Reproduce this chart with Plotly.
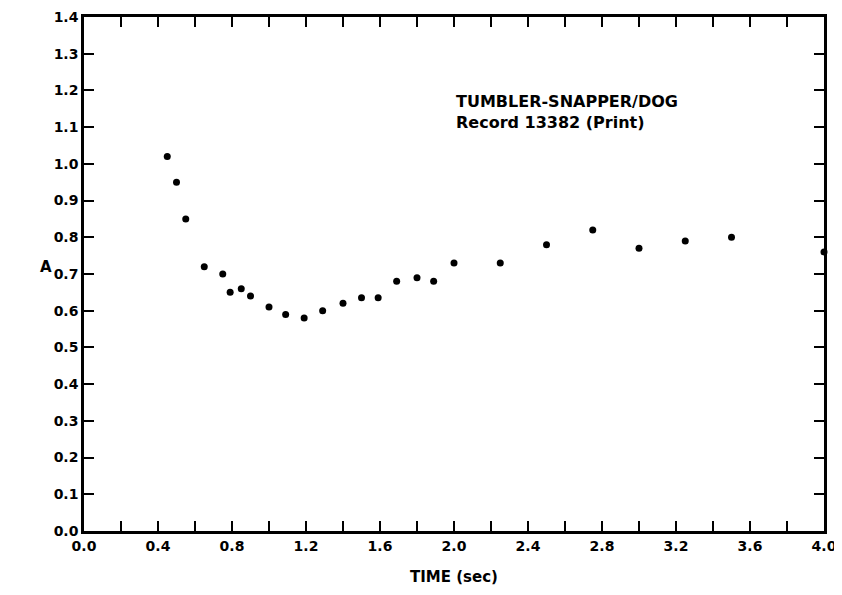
import plotly.graph_objects as go

time_sec = [0.45, 0.50, 0.55, 0.65, 0.75, 0.79, 0.85, 0.90, 1.00, 1.09, 1.19,
            1.29, 1.40, 1.50, 1.59, 1.69, 1.80, 1.89, 2.00, 2.25, 2.50, 2.75,
            3.00, 3.25, 3.50, 4.00]
amp = [1.02, 0.95, 0.85, 0.72, 0.70, 0.65, 0.66, 0.64, 0.61, 0.59, 0.58,
       0.60, 0.62, 0.635, 0.635, 0.68, 0.69, 0.68, 0.73, 0.73, 0.78, 0.82,
       0.77, 0.79, 0.80, 0.76]

title_lines = ["TUMBLER-SNAPPER/DOG", "Record 13382 (Print)"]
x_label = "TIME (sec)"
y_label = "A"

FONT = "DejaVu Sans"

fig = go.Figure()
fig.add_trace(go.Scatter(
    x=time_sec, y=amp, mode="markers",
    marker=dict(color="black", size=7),
    cliponaxis=False, showlegend=False,
))

axis_common = dict(
    showgrid=False, zeroline=False, showline=True, linecolor="black",
    linewidth=2.5, mirror="ticks", ticks="inside", ticklen=10,
    tickwidth=2, tickcolor="black", tickformat=".1f", automargin=False,
    tickfont=dict(family=FONT, size=14, color="black", weight="bold"),
)

fig.update_xaxes(range=[0, 4], dtick=0.4, tick0=0,
                 minor=dict(dtick=0.2, ticks="inside", ticklen=10,
                            tickwidth=2, tickcolor="black"),
                 **axis_common)
fig.update_yaxes(range=[0, 1.4], dtick=0.1, tick0=0, **axis_common)

fig.add_annotation(x=2.0, y=1.14, xref="x", yref="y",
                   text="<br>".join(title_lines),
                   showarrow=False, xanchor="left", yanchor="middle", align="left",
                   font=dict(family=FONT, size=16, color="black", weight="bold"))
fig.add_annotation(x=-0.051, y=0.719, xref="paper", yref="y", text=y_label,
                   showarrow=False, xanchor="center", yanchor="middle",
                   font=dict(family=FONT, size=15, color="black", weight="bold"))
fig.add_annotation(x=0.5, y=-0.0895, xref="paper", yref="paper", text=x_label,
                   showarrow=False, xanchor="center", yanchor="middle",
                   font=dict(family=FONT, size=15, color="black", weight="bold"))

# page body adds ~8px offset; compensate so plot area sits at x 84..824, y 17..531
fig.update_layout(
    width=842, height=595,
    margin=dict(l=76, r=26, t=9, b=72),
    paper_bgcolor="white", plot_bgcolor="white",
)

fig.write_html("out.html")
